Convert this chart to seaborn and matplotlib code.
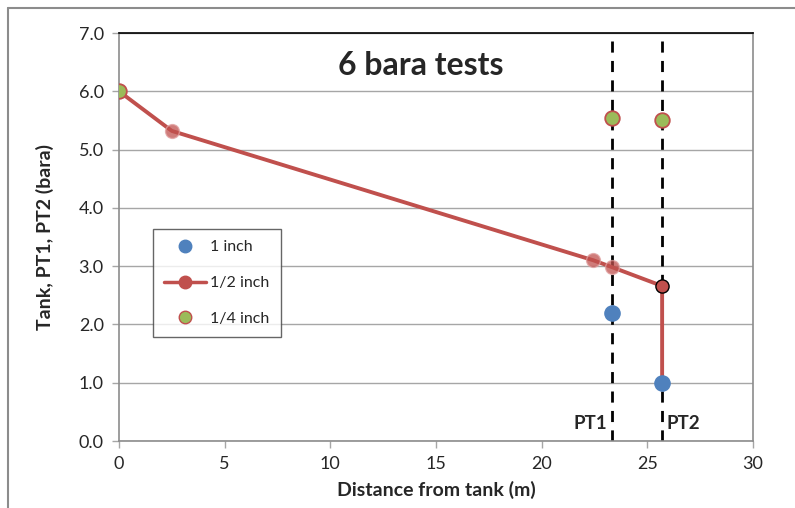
import matplotlib
matplotlib.use("Agg")
import matplotlib.pyplot as plt
import seaborn as sns
import pandas as pd
from matplotlib.lines import Line2D

# Data
half_x = [0.0, 2.5, 22.45, 23.35, 25.7, 25.7]
half_y = [6.0, 5.32, 3.10, 2.98, 2.66, 1.0]
one_x = [23.35, 25.7]
one_y = [2.2, 1.0]
quarter_x = [0.0, 23.35, 25.7]
quarter_y = [6.0, 5.55, 5.5]
pt_positions = [23.35, 25.7]
pt_labels = ["PT1", "PT2"]
title = "6 bara tests"

sns.set_theme(style="white")
plt.rcParams['font.family'] = ['Lato', 'DejaVu Sans']

fig = plt.figure(figsize=(7.95, 5.08), dpi=100)
ax = fig.add_axes([119/795, 1-441/508, (753-119)/795, (441-33)/508])

red = "#C0504D"
blue = "#4F81BD"
green = "#9BBB59"

ax.set_xlim(0, 30)
ax.set_ylim(0, 7)
ax.set_yticks([0, 1, 2, 3, 4, 5, 6, 7])
ax.set_yticklabels([f"{v:.1f}" for v in range(8)])
ax.set_xticks([0, 5, 10, 15, 20, 25, 30])
ax.yaxis.grid(True, color="#A6A6A6", linewidth=1)
ax.set_axisbelow(True)

for x in pt_positions:
    ax.axvline(x, color="black", linestyle=(0, (4, 3)), linewidth=2, zorder=2)

half_df = pd.DataFrame({"x": half_x, "y": half_y})
sns.lineplot(data=half_df, x="x", y="y", ax=ax, color=red, linewidth=2.8,
             sort=False, estimator=None, zorder=3)
ax.scatter(half_x[:-2], half_y[:-2], s=100, color=red, alpha=0.75,
           edgecolor="#E0A0A0", linewidth=1, zorder=4)
ax.scatter([half_x[-2]], [half_y[-2]], s=90, color=red,
           edgecolor="black", linewidth=1, zorder=4)

sns.scatterplot(x=one_x, y=one_y, ax=ax, color=blue, s=120,
                edgecolor=blue, linewidth=1, zorder=5)
sns.scatterplot(x=quarter_x, y=quarter_y, ax=ax, color=green, s=110,
                edgecolor=red, linewidth=1.3, zorder=5)

ax.text(14.3, 6.45, title, fontsize=23, fontweight="bold", ha="center", va="center")
ax.text(23.1, 0.3, pt_labels[0], fontsize=13.5, fontweight="bold", ha="right", va="center")
ax.text(25.9, 0.3, pt_labels[1], fontsize=13.5, fontweight="bold", ha="left", va="center")

ax.set_xlabel("Distance from tank (m)", fontsize=14, fontweight="bold", labelpad=6)
ax.set_ylabel("Tank, PT1, PT2 (bara)", fontsize=14, fontweight="bold", labelpad=18)
ax.tick_params(axis="both", labelsize=13, length=5, width=1, color="#A6A6A6",
               direction="out", bottom=True, left=True)
ax.tick_params(axis="y", pad=6)
ax.tick_params(axis="x", pad=6)

for s in ["left", "bottom", "right"]:
    ax.spines[s].set_color("#8C8C8C")
    ax.spines[s].set_linewidth(1.2)
ax.spines["top"].set_color("black")
ax.spines["top"].set_linewidth(1.2)

handles = [
    Line2D([], [], marker="o", linestyle="none", markersize=9, color=blue, label="1 inch"),
    Line2D([], [], marker="o", linestyle="-", linewidth=2.5, markersize=9, color=red, label="1/2 inch"),
    Line2D([], [], marker="o", linestyle="none", markersize=9, markerfacecolor=green,
           markeredgecolor=red, label="1/4 inch"),
]
leg = ax.legend(handles=handles, loc="upper left", bbox_to_anchor=((153-119)/634, (441-229)/408),
                fontsize=11.5, frameon=True, fancybox=False, edgecolor="#404040",
                borderpad=0.7, labelspacing=1.35, handlelength=2.6, handletextpad=0.3,
                borderaxespad=0)
leg.get_frame().set_linewidth(1)

# outer chart frame
fig.add_artist(Line2D([8/795, 1], [1-8/508, 1-8/508], color="#8C8C8C", linewidth=1.5))
fig.add_artist(Line2D([8/795, 8/795], [0, 1-8/508], color="#8C8C8C", linewidth=1.5))

fig.savefig("out.png", dpi=100)
